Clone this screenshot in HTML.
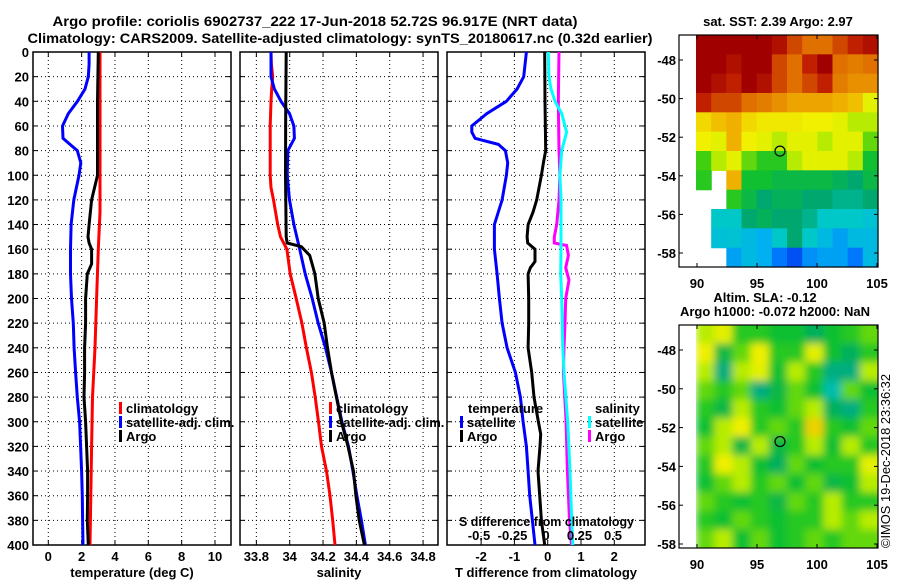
<!DOCTYPE html>
<html><head><meta charset="utf-8"><style>
html,body{margin:0;padding:0;background:#fff;}
svg{display:block;font-family:"Liberation Sans",sans-serif;font-weight:bold;}
</style></head><body>
<svg id="chart" width="900" height="580" viewBox="0 0 900 580" xmlns="http://www.w3.org/2000/svg">
<defs>
<filter id="blur" x="-5%" y="-5%" width="110%" height="110%"><feGaussianBlur stdDeviation="4"/></filter>
<clipPath id="slaClip"><rect x="696" y="325" width="182" height="223"/></clipPath>
</defs>
<rect x="0" y="0" width="900" height="580" fill="#fff"/>
<text x="315" y="26" font-size="14" text-anchor="middle" textLength="525" lengthAdjust="spacingAndGlyphs">Argo profile: coriolis 6902737_222 17-Jun-2018 52.72S 96.917E (NRT data)</text>
<text x="340" y="43" font-size="14" text-anchor="middle" textLength="625" lengthAdjust="spacingAndGlyphs">Climatology: CARS2009. Satellite-adjusted climatology: synTS_20180617.nc (0.32d earlier)</text>
<g id="layer"></g>
</svg>
<script>
// ---------- data ----------
const depthTicks = [0,20,40,60,80,100,120,140,160,180,200,220,240,260,280,300,320,340,360,380,400];
const tempTicks = [0,2,4,6,8,10];
const salTicks = [33.8,34,34.2,34.4,34.6,34.8];
const salTickLabels = ["33.8","34","34.2","34.4","34.6","34.8"];
const dtTicks = [-2,-1,0,1,2];
const dsTicks = [-0.5,-0.25,0,0.25,0.5];
const dsTickLabels = ["-0.5","-0.25","0","0.25","0.5"];

// panel 1: temperature
const tClimDepth = [0,40,80,130,160,200,240,280,320,360,400];
const tClim = [3.1,3.1,3.1,3.1,3.0,2.9,2.8,2.65,2.6,2.55,2.5];
const tSatDepth = [0,10,20,30,40,50,60,70,75,80,90,100,120,140,160,180,200,220,240,260,280,300,320,340,360,380,400];
const tSat = [2.45,2.45,2.4,2.2,1.75,1.2,0.85,0.88,1.3,1.74,1.95,1.84,1.53,1.37,1.33,1.33,1.39,1.5,1.55,1.64,1.74,1.88,1.94,2.0,2.04,2.06,2.08];
const tArgoDepth = [0,40,90,100,120,140,150,155,160,172,180,200,220,240,260,280,300,320,340,360,380,400];
const tArgo = [3.0,2.95,2.95,2.95,2.6,2.45,2.38,2.45,2.6,2.6,2.34,2.24,2.24,2.18,2.18,2.14,2.24,2.3,2.36,2.36,2.34,2.4];

// panel 2: salinity
const sClimDepth = [0,10,20,30,40,60,100,110,120,140,150,160,180,200,220,240,260,280,300,320,340,360,380,400];
const sClim = [33.888,33.89,33.898,33.892,33.888,33.883,33.883,33.888,33.903,33.928,33.945,33.983,34.003,34.039,34.073,34.1,34.13,34.153,34.173,34.191,34.221,34.242,34.258,34.272];
const sSatDepth = [0,20,30,40,50,60,70,80,100,120,140,160,180,200,220,240,260,280,300,320,340,360,380,400];
const sSat = [33.888,33.888,33.908,33.948,33.999,34.025,34.028,33.989,33.985,33.999,34.025,34.06,34.093,34.135,34.171,34.215,34.251,34.282,34.313,34.353,34.379,34.403,34.43,34.454];
const sArgoDepth = [0,50,100,150,155,158,165,180,200,220,240,260,280,300,320,340,360,380,400];
const sArgo = [33.979,33.976,33.975,33.979,33.985,34.07,34.12,34.151,34.171,34.207,34.227,34.251,34.28,34.31,34.35,34.383,34.397,34.417,34.448];

// panel 3: differences
const dtSatDepth = [0,20,30,40,50,60,65,70,75,80,90,100,120,140,160,180,200,220,240,260,280,300,320,340,360,380,400];
const dtSat = [-0.64,-0.72,-0.92,-1.24,-1.83,-2.28,-2.28,-2.18,-1.48,-1.27,-1.2,-1.24,-1.37,-1.6,-1.6,-1.52,-1.45,-1.37,-1.22,-0.97,-0.82,-0.74,-0.64,-0.59,-0.54,-0.46,-0.38];
const dtArgoDepth = [0,40,80,90,100,120,130,140,150,155,160,170,175,180,200,220,240,260,280,300,310,320,340,360,380,400];
const dtArgo = [-0.09,-0.08,-0.06,-0.13,-0.19,-0.33,-0.44,-0.59,-0.62,-0.6,-0.38,-0.38,-0.52,-0.59,-0.57,-0.57,-0.59,-0.48,-0.41,-0.28,-0.21,-0.23,-0.29,-0.24,-0.19,-0.09];
const dsSatDepth = [0,20,30,40,50,60,65,70,80,100,120,140,160,180,200,240,260,300,340,380,400];
const dsSat = [0.017,0.022,0.037,0.067,0.117,0.142,0.154,0.142,0.117,0.104,0.112,0.112,0.112,0.11,0.117,0.125,0.134,0.162,0.179,0.192,0.2];
const dsArgoDepth = [0,40,80,100,120,140,150,155,157,165,175,185,200,220,240,260,280,300,340,380,400];
const dsArgo = [0.097,0.092,0.097,0.104,0.097,0.08,0.062,0.062,0.154,0.167,0.147,0.172,0.147,0.142,0.134,0.13,0.14,0.15,0.16,0.175,0.19];

// maps (rows top->bottom, NaN = no data), value in colour-scale units 0..1
const sstGrid = [
[1,1,1,1,1,.95,.85,.8,.8,.85,.9,.95],
[1,1,.95,1,1,.85,.8,.9,1,.8,.78,.8],
[1,.95,.9,1,.95,.85,.8,.85,.9,.78,.75,.75],
[.9,.85,.85,.8,.78,.75,.72,.72,.72,.7,.68,.6],
[.65,.68,.7,.65,.63,.63,.63,.62,.62,.6,.55,.55],
[.62,.6,.7,.62,.6,.55,.6,.6,.55,.6,.6,.5],
[.48,.55,.6,.5,.45,.45,.55,.6,.6,.6,.55,.42],
[.45,NaN,.7,.42,.42,.4,.4,.4,.4,.38,.36,.4],
[NaN,NaN,.45,.4,.36,.38,.38,.36,.36,.34,.34,.36],
[NaN,.3,.3,.36,.38,.36,.36,.34,.3,.3,.3,.28],
[NaN,.27,.28,.25,.22,.3,.36,.3,.25,.2,.25,.25],
[NaN,NaN,.2,.25,.22,.15,.1,.18,.2,.2,.15,.25]];
const slaGrid = [
[.55,.6,.45,.45,.42,.42,.38,.42,.45,.5],
[.62,.4,.5,.62,.45,.45,.6,.42,.38,.45],
[.55,.35,.55,.6,.42,.55,.45,.35,.35,.55],
[.5,.45,.5,.35,.4,.5,.42,.32,.5,.42],
[.45,.4,.55,.45,.42,.5,.55,.38,.35,.45],
[.42,.55,.62,.45,.5,.45,.66,.45,.42,.5],
[.5,.55,.4,.55,.4,.45,.55,.42,.55,.45],
[.45,.62,.55,.42,.38,.5,.42,.45,.45,.6],
[.42,.5,.55,.45,.5,.42,.5,.4,.42,.55],
[.5,.45,.42,.45,.4,.5,.45,.55,.45,.45],
[.45,.42,.5,.45,.42,.45,.45,.55,.5,.55],
[.5,.55,.42,.5,.42,.45,.5,.45,.5,.5]];
const lonTicks = [90,95,100,105];
const latTicks = [-48,-50,-52,-54,-56,-58];
const argoLon = 96.917, argoLat = -52.72;

// ---------- drawing ----------
const NS="http://www.w3.org/2000/svg";
const layer=document.getElementById('layer');
function mk(tag,attrs,parent){const e=document.createElementNS(NS,tag);for(const k in attrs)e.setAttribute(k,attrs[k]);(parent||layer).appendChild(e);return e;}
const Y0=52,Y1=545;
const yD=d=>Y0+(Y1-Y0)*d/400;
const panels=[
 {x0:33,x1:231,f:v=>48.3+v*16.67,ticks:tempTicks,labels:tempTicks.map(String),xl:"temperature (deg C)",name:"temperature-panel"},
 {x0:240,x1:438,f:v=>289.7+(v-34)*166.7,ticks:salTicks,labels:salTickLabels,xl:"salinity",name:"salinity-panel"},
 {x0:447,x1:645,f:v=>547.7+v*33.3,ticks:dtTicks,labels:dtTicks.map(String),xl:"T difference from climatology",name:"difference-panel"}];
const fS=v=>546+v*134;

panels.forEach((p,pi)=>{
  const g=mk('g',{});
  
  
  depthTicks.forEach(d=>{
    const l=mk('line',{x1:p.x0,x2:p.x1,y1:yD(d),y2:yD(d),stroke:'#000','stroke-width':1,'stroke-dasharray':'1,3'},g);
    
    
    mk('line',{x1:p.x0,x2:p.x0+5,y1:yD(d),y2:yD(d),stroke:'#000'},g);
    mk('line',{x1:p.x1-5,x2:p.x1,y1:yD(d),y2:yD(d),stroke:'#000'},g);
  });
  p.ticks.forEach((v,i)=>{
    const x=p.f(v);
    const l=mk('line',{x1:x,x2:x,y1:Y0,y2:Y1,stroke:'#000','stroke-width':1,'stroke-dasharray':'1,3'},g);
    
    
    mk('line',{x1:x,x2:x,y1:Y1-5,y2:Y1,stroke:'#000'},g);
    mk('line',{x1:x,x2:x,y1:Y0,y2:Y0+5,stroke:'#000'},g);
    const t=mk('text',{x:x,y:561,'font-size':13,'text-anchor':'middle'},g);
    t.textContent=p.labels[i];
    
    
  });
  const fr=mk('rect',{x:p.x0,y:Y0,width:p.x1-p.x0,height:Y1-Y0,fill:'none',stroke:'#000','stroke-width':1.5},g);
  
  
  const xl=mk('text',{x:(p.x0+p.x1)/2,y:577,'font-size':13,'text-anchor':'middle'},g);
  xl.textContent=p.xl;
  
  
});
depthTicks.forEach(d=>{
  const t=mk('text',{x:29,y:yD(d)+5,'font-size':13,'text-anchor':'end'});
  t.textContent=String(d);
  
  
});

function line(depths,vals,fx,color,name){
  const pts=depths.map((d,i)=>fx(vals[i]).toFixed(1)+','+yD(d).toFixed(1)).join(' ');
  const pl=mk('polyline',{points:pts,fill:'none',stroke:color,'stroke-width':3,'stroke-linejoin':'miter'});
  
  
}
line(tSatDepth,tSat,panels[0].f,'#0000ff','temp-satellite-line');
line(tClimDepth,tClim,panels[0].f,'#ff0000','temp-climatology-line');
line(tArgoDepth,tArgo,panels[0].f,'#000','temp-argo-line');
line(sClimDepth,sClim,panels[1].f,'#ff0000','sal-climatology-line');
line(sSatDepth,sSat,panels[1].f,'#0000ff','sal-satellite-line');
line(sArgoDepth,sArgo,panels[1].f,'#000','sal-argo-line');
line(dtSatDepth,dtSat,panels[2].f,'#0000ff','dt-satellite-line');
line(dtArgoDepth,dtArgo,panels[2].f,'#000','dt-argo-line');
line(dsArgoDepth,dsArgo,fS,'#ff00ff','ds-argo-line');
line(dsSatDepth,dsSat,fS,'#00ffff','ds-satellite-line');

function legend(x,y,color,label){
  const g=mk('g',{});
  
  
  mk('rect',{x:x,y:y-6,width:3,height:12,fill:color},g);
  const t=mk('text',{x:x+7,y:y+5,'font-size':13},g);
  t.textContent=label;
}
legend(119,408,'#ff0000','climatology');
legend(119,422,'#0000ff','satellite-adj. clim.');
legend(119,436,'#000','Argo');
legend(329,408,'#ff0000','climatology');
legend(329,422,'#0000ff','satellite-adj. clim.');
legend(329,436,'#000','Argo');
const lt=mk('text',{x:468,y:413,'font-size':13});lt.textContent='temperature';


legend(460,422,'#0000ff','satellite');
legend(460,436,'#000','Argo');
const ls=mk('text',{x:595,y:413,'font-size':13});ls.textContent='salinity';


legend(588,422,'#00ffff','satellite');
legend(588,436,'#ff00ff','Argo');
const st=mk('text',{x:459,y:526,'font-size':13,textLength:175,lengthAdjust:'spacingAndGlyphs'});st.textContent='S difference from climatology';


dsTicks.forEach((v,i)=>{
  const t=mk('text',{x:fS(v),y:540,'font-size':13,'text-anchor':'middle'});
  t.textContent=dsTickLabels[i];
  
  
});

// colormap
const cStops=[[0,[0,0,176]],[0.12,[0,96,255]],[0.22,[0,176,240]],[0.3,[0,200,200]],[0.36,[0,168,112]],[0.42,[16,192,48]],[0.48,[64,208,16]],[0.56,[200,240,0]],[0.62,[240,240,0]],[0.7,[240,176,0]],[0.8,[224,112,0]],[0.9,[192,32,0]],[1,[160,0,0]]];
function cmap(v){for(let i=1;i<cStops.length;i++){if(v<=cStops[i][0]){const a=cStops[i-1],b=cStops[i];const t=(v-a[0])/(b[0]-a[0]);const c=a[1].map((x,k)=>Math.round(x+(b[1][k]-x)*t));return 'rgb('+c.join(',')+')';}}return 'rgb(160,0,0)';}

function drawMap(grid,fx0,fy0,fx1,fy1,dx0,name,latY,smooth){
  const g=mk('g',{});
  
  
  let cg=g;
  if(smooth){
    const clip=mk('g',{'clip-path':'url(#slaClip)'},g);
    cg=mk('g',{filter:'url(#blur)'},clip);
  }
  const rows=grid.length, cols=grid[0].length;
  const cw=(fx1-dx0)/cols, ch=(fy1-fy0)/rows;
  grid.forEach((row,r)=>row.forEach((v,c)=>{
    if(isNaN(v))return;
    let x=dx0+c*cw, y=fy0+r*ch, w=cw+0.6, h=ch+0.6;
    if(smooth){ if(c===cols-1) w+=10; if(r===0){y-=10;h+=10;} if(r===rows-1) h+=10; }
    const cell=mk('rect',{x:x.toFixed(2),y:y.toFixed(2),width:w.toFixed(2),height:h.toFixed(2),fill:cmap(v)},cg);
    
    
  }));
  const lonX=lon=>697+(lon-90)*(877-697)/15;
  lonTicks.forEach(lon=>{
    mk('line',{x1:lonX(lon),x2:lonX(lon),y1:fy1,y2:fy1-4,stroke:'#000'},g);
    mk('line',{x1:lonX(lon),x2:lonX(lon),y1:fy0,y2:fy0+4,stroke:'#000'},g);
    const t=mk('text',{x:lonX(lon),y:fy1+21,'font-size':13,'text-anchor':'middle'},g);
    t.textContent=String(lon);
    
    
  });
  latTicks.forEach(lat=>{
    const y=latY(lat);
    mk('line',{x1:fx0,x2:fx0+4,y1:y,y2:y,stroke:'#000'},g);
    mk('line',{x1:fx1-4,x2:fx1,y1:y,y2:y,stroke:'#000'},g);
    const t=mk('text',{x:fx0-3,y:y+5,'font-size':13,'text-anchor':'end'},g);
    t.textContent=String(lat);
    
    
  });
  const fr=mk('rect',{x:fx0,y:fy0,width:fx1-fx0,height:fy1-fy0,fill:'none',stroke:'#000','stroke-width':1.2},g);
  
  
  const ci=mk('circle',{cx:lonX(argoLon),cy:latY(argoLat),r:5,fill:'none',stroke:'#000','stroke-width':1.2},g);
  
  
}
drawMap(sstGrid,679,35,878,267,696,'sst-map',lat=>60+(-48-lat)*19.3,false);
drawMap(slaGrid,679,325,878,548,696,'sla-map',lat=>350+(-48-lat)*19.4,true);

const t1=mk('text',{x:778,y:26,'font-size':13,'text-anchor':'middle'});t1.textContent='sat. SST: 2.39 Argo: 2.97';


const t2=mk('text',{x:765,y:302,'font-size':13,'text-anchor':'middle'});t2.textContent='Altim. SLA: -0.12';


const t3=mk('text',{x:775,y:316,'font-size':13,'text-anchor':'middle'});t3.textContent='Argo h1000: -0.072 h2000: NaN';


const cp=mk('text',{x:0,y:0,'font-size':13,'font-weight':'normal',transform:'translate(890,548) rotate(-90)',textLength:174,lengthAdjust:'spacingAndGlyphs'});cp.textContent='©IMOS 19-Dec-2018 23:36:32';


</script>
</body></html>
